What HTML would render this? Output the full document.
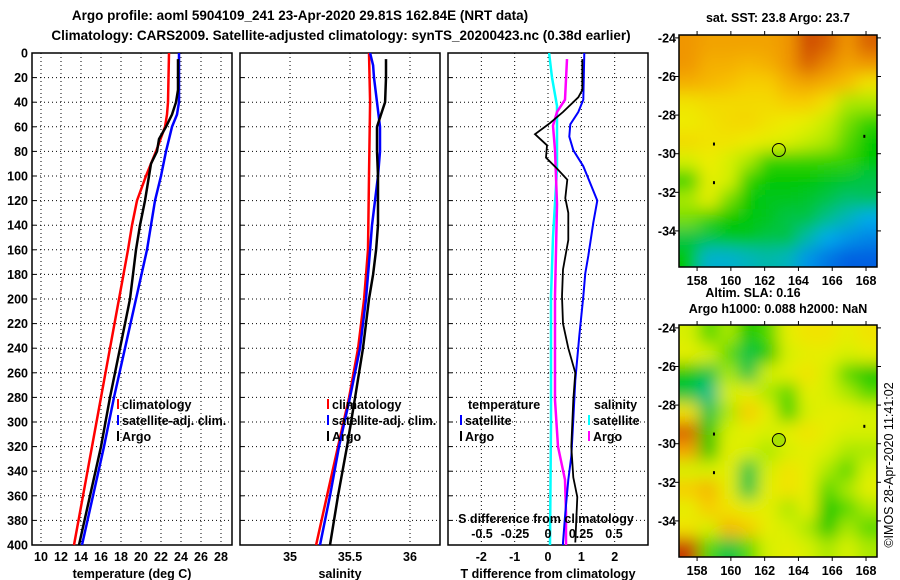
<!DOCTYPE html>
<html><head><meta charset="utf-8">
<style>
html,body{margin:0;padding:0;background:#fff;}
svg{display:block;font-family:"Liberation Sans",sans-serif;font-weight:bold;}
</style></head>
<body>
<svg id="fig" width="900" height="580" viewBox="0 0 900 580" xmlns="http://www.w3.org/2000/svg">
<defs>
<filter id="blur" x="-20%" y="-20%" width="140%" height="140%"><feGaussianBlur stdDeviation="8"/></filter>
<clipPath id="clipTop"><rect x="679" y="35" width="198" height="232"/></clipPath>
<clipPath id="clipBot"><rect x="679" y="325" width="198" height="232"/></clipPath>
</defs>
<rect x="0" y="0" width="900" height="580" fill="#fff"/>
<text x="300" y="20" text-anchor="middle" font-size="13.5">Argo profile: aoml 5904109_241 23-Apr-2020 29.81S 162.84E (NRT data)</text>
<text x="341" y="40" text-anchor="middle" font-size="13.5">Climatology: CARS2009. Satellite-adjusted climatology: synTS_20200423.nc (0.38d earlier)</text>
<g id="plots"></g>
</svg>
<script>
// ---------- data ----------
const depthTicks=[0,20,40,60,80,100,120,140,160,180,200,220,240,260,280,300,320,340,360,380,400];
const tempTicks=[10,12,14,16,18,20,22,24,26,28];
const salTicks=[35,35.5,36];
const salTickLabels=["35","35.5","36"];
const tdiffTicks=[-2,-1,0,1,2];
const sdiffTicks=[-0.5,-0.25,0,0.25,0.5];
const sdiffTickLabels=["-0.5","-0.25","0","0.25","0.5"];

const tClimDepth=[0,40,50,60,80,100,120,140,160,200,240,280,320,360,400];
const tClim=[22.8,22.7,22.6,22.4,21.5,20.5,19.6,19.1,18.7,17.8,16.9,16.0,15.1,14.2,13.3];
const tSatDepth=[0,40,50,60,80,100,120,140,160,200,240,280,320,360,400];
const tSat=[23.8,23.8,23.6,23.1,22.5,22.0,21.4,21.0,20.6,19.5,18.4,17.3,16.3,15.2,14.1];
const tArgoDepth=[5,30,40,50,60,70,80,90,100,120,140,160,200,240,280,320,360,400];
const tArgo=[23.7,23.7,23.5,23.1,22.5,21.8,21.6,21.0,20.8,20.4,19.9,19.5,18.9,17.9,16.9,16.0,14.9,13.8];

const sClimDepth=[0,40,100,160,200,240,280,320,360,400];
const sClim=[35.658,35.667,35.658,35.65,35.617,35.567,35.492,35.4,35.308,35.217];
const sSatDepth=[0,10,20,40,60,80,100,120,140,160,200,240,280,320,360,400];
const sSat=[35.667,35.692,35.7,35.725,35.75,35.75,35.733,35.708,35.683,35.667,35.633,35.583,35.5,35.408,35.333,35.25];
const sArgoDepth=[5,20,40,50,60,80,100,120,140,160,180,200,240,280,320,360,400];
const sArgo=[35.8,35.8,35.792,35.758,35.725,35.725,35.733,35.733,35.733,35.717,35.692,35.658,35.608,35.542,35.475,35.4,35.333];

const dtSatDepth=[0,38,48,58,68,79,92,100,120,138,165,179,198,230,266,298,328,347,374,398,400];
const dtSat=[1.09,1.06,0.91,0.67,0.64,0.76,1.06,1.18,1.48,1.36,1.21,1.12,1.06,0.94,0.82,0.76,0.70,0.61,0.52,0.45,0.45];
const dtArgoDepth=[5,30,36,48,57,66,75,85,94,103,118,130,152,176,198,220,240,260,282,320,345,361,398];
const dtArgo=[1.03,1.03,0.91,0.45,0.06,-0.39,-0.03,-0.06,0.27,0.58,0.52,0.61,0.61,0.45,0.42,0.45,0.61,0.82,0.76,0.70,0.76,0.88,0.82];
const dsSatDepth=[0,20,43,94,150,198,300,400];
const dsSat=[0.008,0.03,0.068,0.068,0.038,0.023,0.023,0.015];
const dsArgoDepth=[5,38,48,59,79,123,198,282,320,347,374,400];
const dsArgo=[0.144,0.129,0.068,0.038,0.053,0.068,0.053,0.053,0.076,0.129,0.136,0.136];

const lonTicks=[158,160,162,164,166,168];
const latTicks=[-24,-26,-28,-30,-32,-34];
const argoLon=162.84, argoLat=-29.81;
const sstGrid=[
[.78,.75,.75,.75,.75,.78,.88,.85,.78,.85],
[.78,.72,.72,.70,.72,.78,.85,.80,.75,.78],
[.72,.70,.68,.65,.65,.72,.75,.72,.68,.60],
[.60,.62,.62,.62,.62,.65,.65,.60,.45,.45],
[.58,.60,.62,.63,.60,.58,.55,.48,.42,.38],
[.62,.60,.60,.58,.55,.52,.48,.45,.40,.35],
[.50,.58,.50,.45,.38,.38,.38,.38,.38,.35],
[.38,.55,.50,.38,.35,.35,.35,.33,.32,.30],
[.45,.55,.42,.35,.33,.33,.32,.30,.27,.28],
[.42,.38,.35,.34,.33,.30,.30,.25,.20,.15],
[.30,.30,.33,.33,.30,.30,.22,.15,.12,.10],
[.35,.18,.18,.20,.22,.20,.12,.08,.05,.05]];
const slaGrid=[
[.50,.40,.45,.35,.40,.55,.60,.60,.55,.60],
[.55,.50,.40,.30,.35,.50,.55,.55,.50,.55],
[.35,.30,.45,.30,.50,.55,.60,.50,.40,.35],
[.30,.25,.50,.55,.45,.40,.55,.50,.45,.40],
[.60,.30,.45,.65,.55,.38,.50,.55,.55,.50],
[.85,.35,.50,.55,.50,.55,.60,.55,.50,.50],
[.75,.35,.55,.50,.45,.50,.55,.50,.45,.45],
[.50,.50,.55,.30,.50,.60,.55,.45,.40,.50],
[.65,.70,.55,.30,.55,.60,.55,.40,.45,.55],
[.55,.65,.60,.55,.55,.45,.55,.35,.40,.45],
[.60,.50,.70,.65,.55,.50,.45,.35,.45,.40],
[.90,.40,.30,.40,.50,.55,.50,.45,.50,.45]];

// ---------- helpers ----------
const NS="http://www.w3.org/2000/svg";
const root=document.getElementById('plots');
function mk(tag,attrs,parent){const e=document.createElementNS(NS,tag);for(const k in attrs)e.setAttribute(k,attrs[k]);(parent||root).appendChild(e);return e;}
function txt(x,y,s,anchor,size,parent){const t=mk('text',{x:x,y:y,'text-anchor':anchor||'middle','font-size':size||12},parent);t.textContent=s;return t;}

const TOP=53, BOT=545;
function yD(d){return TOP+(d/400)*(BOT-TOP);}
function lin(d0,d1,r0,r1){return v=>r0+(v-d0)/(d1-d0)*(r1-r0);}

function panel(name,x0,x1,xs,ticks,labels,xlabel,showY){
  const g=mk('g',{});
  
  
  depthTicks.forEach(d=>{
    const l=mk('line',{x1:x0,x2:x1,y1:yD(d),y2:yD(d),stroke:'#000','stroke-width':1,'stroke-dasharray':'1,3'},g);
    
    
    const tk=mk('line',{x1:x0,x2:x0+4,y1:yD(d),y2:yD(d),stroke:'#000'},g);
    
    
    if(showY){const t=txt(28,yD(d)+4.5,String(d),'end',12.5,g);
      
      }
  });
  ticks.forEach((v,i)=>{
    const x=xs(v);
    const l=mk('line',{x1:x,x2:x,y1:TOP,y2:BOT,stroke:'#000','stroke-width':1,'stroke-dasharray':'1,3'},g);
    
    
    const t=txt(x,561,labels[i],'middle',12.5,g);
    
    
  });
  const r=mk('rect',{x:x0,y:TOP,width:x1-x0,height:BOT-TOP,fill:'none',stroke:'#000','stroke-width':1.5},g);
  
  
  const xl=txt((x0+x1)/2,578,xlabel,'middle',12.5,g);
  
  
  return g;
}
function series(g,name,depths,vals,xs,color,w){
  const pts=depths.map((d,i)=>xs(vals[i]).toFixed(1)+','+yD(d).toFixed(1)).join(' ');
  const p=mk('polyline',{points:pts,fill:'none',stroke:color,'stroke-width':w,'stroke-linejoin':'miter'},g);
  
  
}
function legend(g,x,y,color,label,name){
  const l=mk('line',{x1:x,x2:x,y1:y-10,y2:y,stroke:color,'stroke-width':2},g);
  
  
  const t=txt(x+4,y,label,'start',12.5,g);
  
  
}

// panel 1
const xT=lin(9.1,29.1,32,232);
const g1=panel('temperature-panel',32,232,xT,tempTicks,tempTicks.map(String),'temperature (deg C)',true);
series(g1,'temperature-climatology-line',tClimDepth,tClim,xT,'#ff0000',2.5);
series(g1,'temperature-satellite-line',tSatDepth,tSat,xT,'#0000ff',2.5);
series(g1,'temperature-argo-line',tArgoDepth,tArgo,xT,'#000',2.5);
legend(g1,118,409,'#ff0000','climatology','legend-climatology');
legend(g1,118,425,'#0000ff','satellite-adj. clim.','legend-satellite');
legend(g1,118,441,'#000','Argo','legend-argo');

// panel 2
const xS=lin(34.583,36.25,240,440);
const g2=panel('salinity-panel',240,440,xS,salTicks,salTickLabels,'salinity',false);
series(g2,'salinity-climatology-line',sClimDepth,sClim,xS,'#ff0000',2.5);
series(g2,'salinity-satellite-line',sSatDepth,sSat,xS,'#0000ff',2.5);
series(g2,'salinity-argo-line',sArgoDepth,sArgo,xS,'#000',2.5);
legend(g2,328,409,'#ff0000','climatology','legend-climatology');
legend(g2,328,425,'#0000ff','satellite-adj. clim.','legend-satellite');
legend(g2,328,441,'#000','Argo','legend-argo');

// panel 3
const xDT=lin(-3,3,448,648);
const xDS=lin(-0.7576,0.7576,448,648);
const g3=panel('difference-panel',448,648,xDT,tdiffTicks,tdiffTicks.map(String),'T difference from climatology',false);
series(g3,'sdiff-satellite-line',dsSatDepth,dsSat,xDS,'#00ffff',2.5);
series(g3,'sdiff-argo-line',dsArgoDepth,dsArgo,xDS,'#ff00ff',2.5);
series(g3,'tdiff-satellite-line',dtSatDepth,dtSat,xDT,'#0000ff',2);
series(g3,'tdiff-argo-line',dtArgoDepth,dtArgo,xDT,'#000',1.8);
{const t=txt(468,409,'temperature','start',12.5,g3);}
{const t=txt(594,409,'salinity','start',12.5,g3);}
legend(g3,461,425,'#0000ff','satellite','legend-t-satellite');
legend(g3,461,441,'#000','Argo','legend-t-argo');
legend(g3,589,425,'#00ffff','satellite','legend-s-satellite');
legend(g3,589,441,'#ff00ff','Argo','legend-s-argo');
{const t=txt(546,523,'S difference from climatology','middle',12.5,g3);}
sdiffTicks.forEach((v,i)=>{const t=txt(xDS(v),538,sdiffTickLabels[i],'middle',12.5,g3);
  
  });

// maps
function col(v){
  const stops=[[0,[0,60,220]],[0.15,[0,170,235]],[0.25,[0,190,140]],[0.35,[0,200,0]],[0.45,[170,232,0]],[0.5,[215,240,0]],[0.58,[238,236,0]],[0.66,[248,200,0]],[0.78,[240,150,0]],[0.9,[200,60,0]],[1,[150,20,0]]];
  for(let i=1;i<stops.length;i++){if(v<=stops[i][0]){const a=stops[i-1],b=stops[i],t=(v-a[0])/(b[0]-a[0]);
    return 'rgb('+a[1].map((c,k)=>Math.round(c+(b[1][k]-c)*t)).join(',')+')';}}
  return 'rgb(150,20,0)';
}
const MX0=679,MX1=877;
const lonX=lin(156.93,168.65,MX0,MX1);
function map(name,grid,top,clip,circleFill){
  const g=mk('g',{});
  
  
  const latY=lin(-23.85,-35.87,top,top+232);
  const cg=mk('g',{'clip-path':'url(#'+clip+')'},g);
  const hg=mk('g',{filter:'url(#blur)'},cg);
  const rows=grid.length,cols=grid[0].length,cw=(MX1-MX0)/cols,ch=232/rows;
  grid.forEach((row,r)=>row.forEach((v,c)=>{
    let x=MX0+c*cw,y=top+r*ch,w=cw+0.5,h=ch+0.5;
    if(c===0){x-=25;w+=25;} if(c===cols-1){w+=25;}
    if(r===0){y-=25;h+=25;} if(r===rows-1){h+=25;}
    const cell=mk('rect',{x:x,y:y,width:w,height:h,fill:col(v)},hg);
    
    
  }));
  const fr=mk('rect',{x:MX0,y:top,width:MX1-MX0,height:232,fill:'none',stroke:'#000','stroke-width':1.5},g);
  
  
  lonTicks.forEach(v=>{const x=lonX(v);
    mk('line',{x1:x,x2:x,y1:top-4,y2:top,stroke:'#000'},g);
    mk('line',{x1:x,x2:x,y1:top+232,y2:top+236,stroke:'#000'},g);
    const t=txt(x,top+250,String(v),'middle',12.5,g);
    
    });
  latTicks.forEach(v=>{const y=latY(v);
    mk('line',{x1:MX0-4,x2:MX0,y1:y,y2:y,stroke:'#000'},g);
    mk('line',{x1:MX1,x2:MX1+4,y1:y,y2:y,stroke:'#000'},g);
    const t=txt(676,y+4.5,String(v),'end',12.5,g);
    
    });
  const c=mk('circle',{cx:lonX(argoLon),cy:latY(argoLat),r:6.5,fill:circleFill,stroke:'#000','stroke-width':1},g);
  
  
  [[159.0,-29.5],[159.0,-31.5],[167.9,-29.1]].forEach(p=>{
    const d=mk('rect',{x:lonX(p[0])-1,y:latY(p[1])-1.5,width:2,height:3,fill:'#000'},g);
    
    });
  return g;
}
map('sst-map',sstGrid,35,'clipTop','none');
map('sla-map',slaGrid,325,'clipBot','#a8e000');
{const t=txt(778,22,'sat. SST: 23.8 Argo: 23.7','middle',12.5);}
{const t=txt(753,297,'Altim. SLA: 0.16','middle',12.5);}
{const t=txt(778,313,'Argo h1000: 0.088 h2000: NaN','middle',12.5);}
{const t=txt(0,0,'©IMOS 28-Apr-2020 11:41:02','middle',12.5);t.setAttribute('transform','translate(893,465) rotate(-90)');t.setAttribute('font-weight','normal');}
</script>
</body></html>
